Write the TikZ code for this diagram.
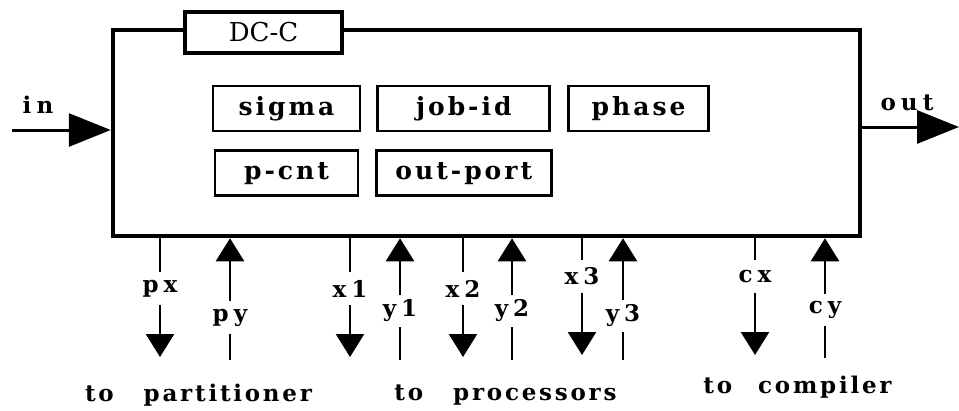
\documentclass[tikz,border=0pt]{standalone}
\usepackage{fontspec}
\usetikzlibrary{arrows.meta, positioning}

\newfontfamily\fieldfont[LetterSpace=12]{DejaVu Serif Bold}
\newfontfamily\portfont[LetterSpace=22]{DejaVu Serif Bold}
\newfontfamily\titlefont{DejaVu Serif}

\begin{document}
\begin{tikzpicture}[
    x=1pt, y=-1pt,
    node distance=17pt and 15pt,
    frame/.style={draw, line width=4.5pt, rectangle, minimum width=747pt, minimum height=206pt, inner sep=0pt},
    field/.style={draw, line width=2.8pt, rectangle, minimum height=45pt, inner sep=0pt, font=\fieldfont\fontsize{25}{30}\selectfont},
    port/.style={inner sep=0pt, minimum height=32pt, font=\portfont\fontsize{23}{26}\selectfont},
    dest/.style={inner sep=0pt, font=\fieldfont\fontsize{23}{28}\selectfont},
    wire/.style={line width=2.6pt},
    arrow/.style={wire, -{Triangle[length=23pt,width=28pt]}},
    bigarrow/.style={line width=3pt, -{Triangle[length=42pt,width=33pt]}}
]
\path[use as bounding box] (0,0) rectangle (959,410);

% controller frame and its title tab
\node (main) [frame] at (486.5,133) {};
\node (dcc) [draw, fill=white, line width=4pt, minimum width=157pt, minimum height=41pt, inner sep=0pt, font=\titlefont\fontsize{26}{30}\selectfont] at (263.5,32.5) {DC-C};

% state fields
\node (sigma) [field, minimum width=147pt] at (286.5,108.5) {sigma};
\node (jobid) [field, minimum width=172pt, right=15pt of sigma] {job-id};
\node (phase) [field, minimum width=140pt, right=16pt of jobid] {phase};
\node (pcnt) [field, minimum width=143pt, below=17pt of sigma] {p-cnt};
\node (outport) [field, minimum width=175pt, below=17pt of jobid] {out-port};

% in / out
\coordinate (insrc) at (12,130);
\coordinate (outdst) at (959,127);
\node (inlbl) [port, minimum height=0pt] at (38,105) {in};
\node (outlbl) [port, minimum height=0pt] at (907,103) {out};
\draw[bigarrow] (insrc) -- (insrc -| main.west);
\draw[bigarrow] (outdst -| main.east) -- (outdst);

% partitioner ports
\node (px) [port] at (160,288.5) {px};
\coordinate (pxend) at (160,357);
\draw[wire] (main.south -| px) -- (px);
\draw[arrow] (px) -- (pxend);

\node (py) [port] at (230,317.5) {py};
\coordinate (pyend) at (230,360);
\draw[arrow] (py) -- (main.south -| py);
\draw[wire] (py) -- (pyend);

% processor ports
\node (x1) [port] at (350,288.5) {x1};
\coordinate (x1end) at (350,357);
\draw[wire] (main.south -| x1) -- (x1);
\draw[arrow] (x1) -- (x1end);

\node (y1) [port] at (400,311) {y1};
\coordinate (y1end) at (400,360);
\draw[arrow] (y1) -- (main.south -| y1);
\draw[wire] (y1) -- (y1end);

\node (x2) [port] at (463,288.5) {x2};
\coordinate (x2end) at (463,357);
\draw[wire] (main.south -| x2) -- (x2);
\draw[arrow] (x2) -- (x2end);

\node (y2) [port] at (512,311) {y2};
\coordinate (y2end) at (512,360);
\draw[arrow] (y2) -- (main.south -| y2);
\draw[wire] (y2) -- (y2end);

\node (x3) [port] at (582,276.5) {x3};
\coordinate (x3end) at (582,355);
\draw[wire] (main.south -| x3) -- (x3);
\draw[arrow] (x3) -- (x3end);

\node (y3) [port] at (623,316) {y3};
\coordinate (y3end) at (623,360);
\draw[arrow] (y3) -- (main.south -| y3);
\draw[wire] (y3) -- (y3end);

% compiler ports
\node (cx) [port] at (755,276.5) {cx};
\coordinate (cxend) at (755,355);
\draw[wire] (main.south -| cx) -- (cx);
\draw[arrow] (cx) -- (cxend);

\node (cy) [port] at (825,310) {cy};
\coordinate (cyend) at (825,358);
\draw[arrow] (cy) -- (main.south -| cy);
\draw[wire] (cy) -- (cyend);

% destinations
\node (topart) [dest] at (198.5,395) {to\hspace{30pt}partitioner};
\node (toproc) [dest] at (505.5,395) {to\hspace{30pt}processors};
\node (tocomp) [dest] at (797.5,387) {to\hspace{26pt}compiler};
\end{tikzpicture}
\end{document}
